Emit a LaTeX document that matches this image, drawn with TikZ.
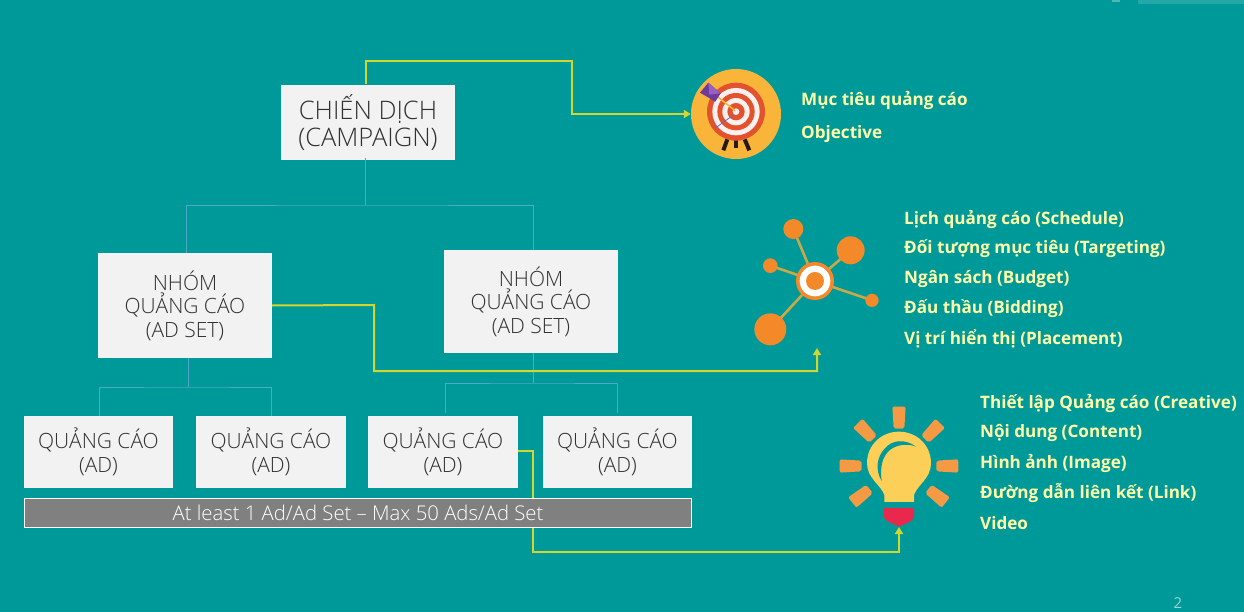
\documentclass[tikz,border=0pt]{standalone}
\usepackage{fontspec}
\setmainfont{Open Sans}
\newfontfamily\lightfont{Open Sans Light}
\usetikzlibrary{arrows.meta,calc}
\definecolor{bgteal}{HTML}{009999}
\definecolor{boxgrey}{HTML}{F2F2F2}
\definecolor{linkblue}{HTML}{4FA8C8}
\definecolor{linkyellow}{HTML}{D2D62E}
\definecolor{labelyellow}{HTML}{FFFFA8}
\definecolor{bargrey}{HTML}{808080}
\definecolor{boxtext}{HTML}{303030}
\definecolor{tgtorange}{HTML}{F9B43A}
\definecolor{tgtred}{HTML}{E2532D}
\definecolor{netorange}{HTML}{F4892A}
\definecolor{netstem}{HTML}{C8A848}
\definecolor{bulbyellow}{HTML}{FBCF58}
\definecolor{rayorange}{HTML}{F49A45}
\definecolor{bulbred}{HTML}{E8284C}
\definecolor{fletchdark}{HTML}{6E3A9C}
\definecolor{fletchlight}{HTML}{9A5FC0}
\tikzset{
  orgbox/.style={fill=boxgrey,draw=none,inner sep=0pt,align=center,text=boxtext,font=\lightfont\fontsize{21}{23.5}\selectfont},
  campbox/.style={orgbox,minimum width=174pt,minimum height=75pt,font=\lightfont\fontsize{25.5}{27}\selectfont},
  setbox/.style={orgbox,minimum width=174pt},
  adbox/.style={orgbox,minimum width=150pt,minimum height=72pt},
  treeline/.style={draw=linkblue,line width=0.8pt},
  yelline/.style={draw=linkyellow,line width=2pt},
  yelarrow/.style={yelline,-{Triangle[length=7pt,width=8pt,fill=linkyellow]}},
  barbox/.style={fill=bargrey,draw=white,line width=0.9pt,inner sep=0pt,minimum width=667pt,minimum height=29pt,text=white,font=\lightfont\fontsize{20.3}{24}\selectfont},
  lbl/.style={anchor=west,inner sep=0pt,text=labelyellow,font=\fontsize{17.1}{20}\selectfont\bfseries},
  stem/.style={draw=netstem,line width=2.6pt},
  leg/.style={draw=black!80!brown,line width=4pt}
}
\begin{document}
\begin{tikzpicture}[x=1pt,y=-1pt]
\useasboundingbox (0,0) rectangle (1244,612);
\fill[bgteal] (0,0) rectangle (1244,612);
\fill[white!30!bgteal] (1112,0) rectangle (1120,2.5);
\fill[white!14!bgteal] (1138,0.5) rectangle (1244,4);

% boxes
\node[campbox] (camp) at (368,122.5) {CHIẾN DỊCH\\(CAMPAIGN)};
\node[setbox,minimum height=105pt] (set1) at (185,305.5) {NHÓM\\QUẢNG CÁO\\(AD SET)};
\node[setbox,minimum height=103pt] (set2) at (531,301.5) {NHÓM\\QUẢNG CÁO\\(AD SET)};
\node[adbox,minimum width=149pt] (ad1) at (98.5,452) {QUẢNG CÁO\\(AD)};
\node[adbox] (ad2) at (271,452) {QUẢNG CÁO\\(AD)};
\node[adbox] (ad3) at (443,452) {QUẢNG CÁO\\(AD)};
\node[adbox,minimum width=149pt] (ad4) at (617.5,452) {QUẢNG CÁO\\(AD)};

% icon anchors
\node[circle,fill=tgtorange,draw=none,minimum size=90pt,inner sep=0pt] (target) at (736,114) {};
\coordinate (netin) at (817,348);
\coordinate (bulbin) at (899,527);

% tree connectors
\coordinate (j0) at (365,205);
\coordinate (j1) at (188,387);
\coordinate (j2) at (533,383);
\draw[treeline] (365,158) -- (j0);
\draw[treeline] (186,253) |- (j0) -| (533,250);
\draw[treeline] (188,358) -- (j1);
\draw[treeline] (99,416) |- (j1) -| (271,416);
\draw[treeline] (533,353) -- (j2);
\draw[treeline] (445,413) |- (j2) -| (617,413);

% yellow connectors
\coordinate (y1) at (572,61);
\coordinate (y2) at (374,371);
\coordinate (y3) at (533,552);
\draw[yelarrow] (366,84) |- (y1) |- (target.west);
\draw[yelarrow] (set1.east) -- (374,305) -- (y2) -| (netin);
\draw[yelarrow] (518,451) -| (y3) -| (bulbin);

% bar
\node[barbox] (bar) at (358,512.5) {At least 1 Ad/Ad Set – Max 50 Ads/Ad Set};

% target icon
\begin{scope}[shift={(680,60)},x=0.3333pt,y=-0.3333pt]
  \draw[leg] (142,238) -- (130,271);
  \draw[leg] (168,238) -- (168,264);
  \draw[leg] (194,238) -- (208,271);
  \fill[tgtred] (168,155) circle (87);
  \fill[white!94!red] (168,155) circle (71);
  \fill[tgtred] (168,155) circle (56);
  \fill[white!94!red] (168,155) circle (41);
  \fill[tgtred] (168,155) circle (26);
  \fill[white!94!red] (168,155) circle (10);
  \draw[draw=tgtorange,line width=1.6pt] (110,108) -- (165,152);
  \draw[draw=black!45!blue!60!white,line width=0.8pt] (105,205) -- (160,165);
  \fill[fletchdark] (60,98) -- (85,68) -- (122,100) -- (106,125) -- cycle;
  \fill[fletchlight] (85,68) -- (122,100) -- (88,104) -- cycle;
\end{scope}

% network icon
\begin{scope}[shift={(740,205)},x=0.3333pt,y=-0.3333pt]
  \draw[stem] (225,228) -- (160,72);
  \draw[stem] (225,228) -- (332,136);
  \draw[stem] (225,228) -- (91,182);
  \draw[stem] (225,228) -- (396,286);
  \draw[stem] (225,228) -- (91,373);
  \fill[netorange] (160,72) circle (30);
  \fill[netorange] (332,136) circle (42);
  \fill[netorange] (91,182) circle (22);
  \fill[netorange] (396,286) circle (20);
  \fill[netorange] (91,373) circle (48);
  \fill[netorange] (225,228) circle (57);
  \fill[white] (225,228) circle (46);
  \fill[netorange] (225,228) circle (27);
\end{scope}

% bulb icon
\begin{scope}[shift={(830,395)},x=0.3333pt,y=-0.3333pt]
  \foreach \a in {90,46,0,-38,-142,180,134} {
    \fill[rayorange,rounded corners=2pt,shift={(207,213)},rotate=\a]
      (112,-16) -- (178,-20) -- (178,20) -- (112,16) -- cycle;
  }
  \fill[bulbyellow] (163,321) -- (252,321) -- (252,300)
     .. controls (262,270) and (303,250) .. (303,205)
     .. controls (303,150) and (260,110) .. (207,110)
     .. controls (154,110) and (111,150) .. (111,205)
     .. controls (111,250) and (153,270) .. (163,300) -- cycle;
  \fill[bgteal] (258,155) .. controls (225,130) and (185,135) .. (165,160)
     .. controls (140,185) and (135,225) .. (155,258)
     .. controls (150,220) and (155,185) .. (180,165)
     .. controls (200,148) and (235,145) .. (258,155) -- cycle;
  \fill[bulbred] (162,339) -- (252,339) -- (252,368)
     .. controls (240,385) and (225,385) .. (207,395)
     .. controls (190,385) and (175,385) .. (162,368) -- cycle;
\end{scope}

% labels
\node[lbl] (t1) at (801,100) {Mục tiêu quảng cáo};
\node[lbl] (t2) at (801,134) {Objective};
\node[lbl] (n1) at (904,219) {Lịch quảng cáo (Schedule)};
\node[lbl] (n2) at (904,249) {Đối tượng mục tiêu (Targeting)};
\node[lbl] (n3) at (904,279) {Ngân sách (Budget)};
\node[lbl] (n4) at (904,309) {Đấu thầu (Bidding)};
\node[lbl] (n5) at (904,339) {Vị trí hiển thị (Placement)};
\node[lbl] (b1) at (980,403) {Thiết lập Quảng cáo (Creative)};
\node[lbl] (b2) at (980,433) {Nội dung (Content)};
\node[lbl] (b3) at (980,463) {Hình ảnh (Image)};
\node[lbl] (b4) at (980,493) {Đường dẫn liên kết (Link)};
\node[lbl] (b5) at (980,523) {Video};
\node[inner sep=0pt,text=white!60!bgteal,font=\fontsize{15}{18}\selectfont] (pg) at (1178,603) {2};
\end{tikzpicture}
\end{document}
